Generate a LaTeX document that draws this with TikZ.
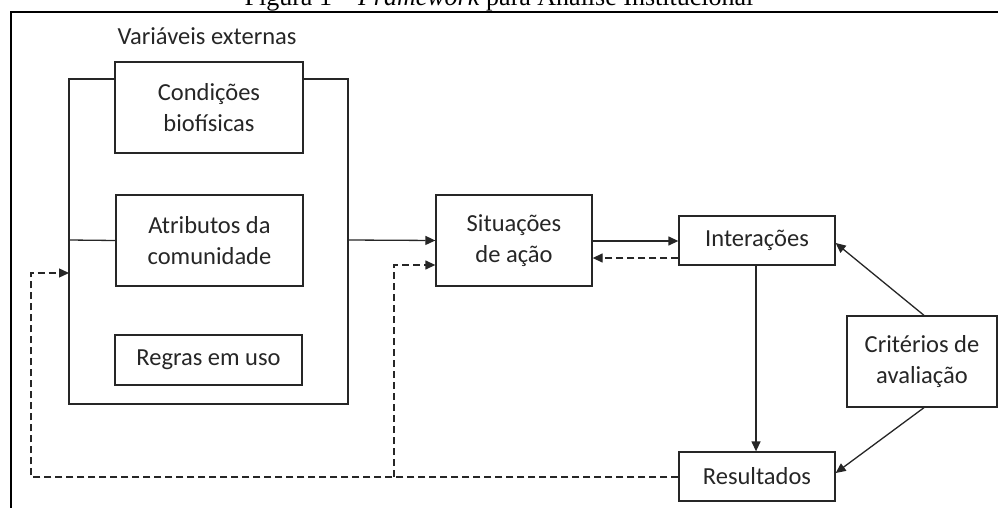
\documentclass[tikz,border=0pt]{standalone}
\usepackage{fontspec}
\setmainfont{Carlito}
\newfontfamily\titlefont{Liberation Serif}
\usetikzlibrary{arrows.meta}
\begin{document}
\begin{tikzpicture}[x=1pt,y=-1pt,
  box/.style={draw=black!85,line width=1.3pt,fill=white,align=center,inner sep=0pt,font=\fontsize{24.5}{31.5}\selectfont,text=black!85},
  conn/.style={draw=black!85,line width=1.3pt,-{Triangle[length=10pt,width=9pt]}},
  plain/.style={draw=black!85,line width=1.3pt},
  dconn/.style={conn,dash pattern=on 7pt off 4pt},
  dplain/.style={plain,dash pattern=on 7pt off 4pt}]
\useasboundingbox (0,0) rectangle (998,508);
% frame
\draw[line width=1.5pt] (11,510) -- (11,12) -- (1000,12);
% title
\node[font=\titlefont\fontsize{26}{30}\selectfont,anchor=base] (title) at (499,6) {Figura 1 – \textit{Framework} para Análise Institucional};
% container
\draw[plain] (69,79) rectangle (348,404);
\coordinate (cl) at (69,240);
\coordinate (cr) at (348,240);
\coordinate (cl2) at (69,273);
\node[font=\fontsize{24.5}{30}\selectfont,text=black!85] (ext) at (207,36) {Variáveis externas};
% boxes
\node[box,minimum width=188pt,minimum height=91pt] (cond) at (209,107.5) {Condições\\biofísicas};
\node[box,minimum width=187pt,minimum height=91pt] (atr) at (209.5,240.5) {Atributos da\\comunidade};
\node[box,minimum width=187pt,minimum height=50pt] (reg) at (208.5,360) {Regras em uso};
\node[box,minimum width=156pt,minimum height=91pt] (sit) at (514,240.5) {Situações\\de ação};
\node[box,minimum width=156pt,minimum height=49pt] (int) at (757,240.5) {Interações};
\node[box,minimum width=156pt,minimum height=49pt] (res) at (757,476.5) {Resultados};
\node[box,minimum width=150pt,minimum height=91pt] (cri) at (922,361.5) {Critérios de\\avaliação};
% connectors
\draw[plain] (cl) -- (atr.west);
\draw[conn] (cr) -- (sit.west);
\draw[conn] (sit.east |- 0,241) -- (int.west |- 0,241);
\draw[dconn] (int.west |- 0,258) -- (sit.east |- 0,258);
\draw[conn] (int.south -| 756,0) -- (res.north -| 756,0);
\draw[conn] (cri.north -| 924,0) -- (int.east |- 0,243);
\draw[conn] (cri.south -| 924,0) -- (res.east |- 0,473);
\coordinate (d1) at (31,477);
\coordinate (d2) at (394,477);
\draw[dconn] (res.west |- 0,477) -- (d1) |- (cl2);
\draw[dconn] (d2) |- (sit.west |- 0,265);
\end{tikzpicture}
\end{document}
